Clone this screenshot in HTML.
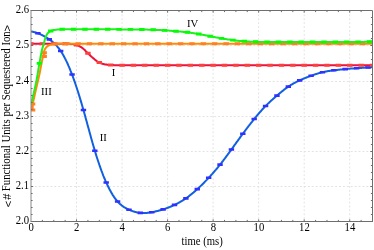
<!DOCTYPE html>
<html><head><meta charset="utf-8"><style>html,body{margin:0;padding:0;background:#fff;}svg{display:block;}.s{font-family:"Liberation Sans",sans-serif;font-size:11px;}.t{font-family:"Liberation Serif",serif;font-size:10.7px;opacity:0.999;}</style></head><body>
<svg width="374" height="250" viewBox="0 0 374 250">
<rect width="374" height="250" fill="#fff"/>
<path d="M76.53,10.5 V221.5 M122.07,10.5 V221.5 M167.60,10.5 V221.5 M213.13,10.5 V221.5 M258.67,10.5 V221.5 M304.20,10.5 V221.5 M349.73,10.5 V221.5 M31.0,45.5 H372.5 M31.0,81.5 H372.5 M31.0,116.5 H372.5 M31.0,151.5 H372.5 M31.0,186.5 H372.5" stroke="#e2e2e2" stroke-width="1" stroke-dasharray="1.9 2" fill="none"/>
<clipPath id="c"><rect x="31.0" y="10.5" width="341.5" height="211.0"/></clipPath>
<g clip-path="url(#c)">
<path d="M31.0,31.4 L31.5,31.5 L32.0,31.6 L32.5,31.7 L33.0,31.8 L33.5,31.9 L34.0,32.1 L34.5,32.2 L35.0,32.3 L35.5,32.5 L36.0,32.6 L36.5,32.8 L37.0,33.0 L37.5,33.2 L38.0,33.3 L38.5,33.5 L39.0,33.7 L39.5,33.9 L40.0,34.1 L40.5,34.4 L41.0,34.6 L41.5,34.8 L42.0,35.1 L42.5,35.3 L43.0,35.6 L43.5,35.8 L44.0,36.1 L44.5,36.4 L45.0,36.7 L45.5,37.0 L46.0,37.3 L46.5,37.6 L47.0,37.9 L47.5,38.2 L48.0,38.5 L48.5,38.9 L49.0,39.2 L49.5,39.5 L50.0,39.9 L50.5,40.3 L51.0,40.6 L51.5,41.0 L52.0,41.4 L52.5,41.8 L53.0,42.3 L53.5,42.7 L54.0,43.1 L54.5,43.6 L55.0,44.1 L55.5,44.6 L56.0,45.1 L56.5,45.6 L57.0,46.2 L57.5,46.8 L58.0,47.4 L58.5,48.0 L59.0,48.6 L59.5,49.3 L60.0,50.0 L60.5,50.7 L61.0,51.4 L61.5,52.2 L62.0,53.0 L62.5,53.8 L63.0,54.7 L63.5,55.6 L64.0,56.5 L64.5,57.4 L65.0,58.4 L65.5,59.3 L66.0,60.4 L66.5,61.4 L67.0,62.4 L67.5,63.5 L68.0,64.6 L68.5,65.8 L69.0,66.9 L69.5,68.1 L70.0,69.3 L70.5,70.6 L71.0,71.8 L71.5,73.1 L72.0,74.4 L72.5,75.7 L73.0,77.1 L73.5,78.5 L74.0,79.9 L74.5,81.3 L75.0,82.7 L75.5,84.2 L76.0,85.7 L76.5,87.2 L77.0,88.7 L77.5,90.2 L78.0,91.8 L78.5,93.4 L79.0,95.0 L79.5,96.6 L80.0,98.3 L80.5,99.9 L81.0,101.6 L81.5,103.3 L82.0,105.0 L82.5,106.7 L83.0,108.5 L83.5,110.2 L84.0,112.0 L84.5,113.8 L85.0,115.6 L85.5,117.4 L86.0,119.2 L86.5,121.0 L87.0,122.8 L87.5,124.7 L88.0,126.5 L88.5,128.3 L89.0,130.1 L89.5,132.0 L90.0,133.8 L90.5,135.6 L91.0,137.4 L91.5,139.2 L92.0,141.0 L92.5,142.7 L93.0,144.5 L93.5,146.2 L94.0,147.9 L94.5,149.6 L95.0,151.3 L95.5,152.9 L96.0,154.6 L96.5,156.2 L97.0,157.7 L97.5,159.3 L98.0,160.8 L98.5,162.3 L99.0,163.8 L99.5,165.3 L100.0,166.7 L100.5,168.1 L101.0,169.5 L101.5,170.9 L102.0,172.2 L102.5,173.5 L103.0,174.8 L103.5,176.1 L104.0,177.3 L104.5,178.5 L105.0,179.7 L105.5,180.9 L106.0,182.0 L106.5,183.1 L107.0,184.2 L107.5,185.3 L108.0,186.3 L108.5,187.3 L109.0,188.3 L109.5,189.3 L110.0,190.2 L110.5,191.1 L111.0,192.0 L111.5,192.9 L112.0,193.7 L112.5,194.6 L113.0,195.4 L113.5,196.1 L114.0,196.9 L114.5,197.6 L115.0,198.3 L115.5,199.0 L116.0,199.6 L116.5,200.2 L117.0,200.8 L117.5,201.4 L118.0,202.0 L118.5,202.5 L119.0,203.0 L119.5,203.5 L120.0,204.0 L120.5,204.4 L121.0,204.8 L121.5,205.3 L122.0,205.6 L122.5,206.0 L123.0,206.4 L123.5,206.7 L124.0,207.1 L124.5,207.4 L125.0,207.7 L125.5,208.0 L126.0,208.2 L126.5,208.5 L127.0,208.8 L127.5,209.0 L128.0,209.2 L128.5,209.5 L129.0,209.7 L129.5,209.9 L130.0,210.1 L130.5,210.3 L131.0,210.5 L131.5,210.7 L132.0,210.9 L132.5,211.1 L133.0,211.3 L133.5,211.4 L134.0,211.6 L134.5,211.7 L135.0,211.9 L135.5,212.0 L136.0,212.1 L136.5,212.3 L137.0,212.4 L137.5,212.5 L138.0,212.6 L138.5,212.7 L139.0,212.7 L139.5,212.8 L140.0,212.9 L140.5,212.9 L141.0,213.0 L141.5,213.0 L142.0,213.0 L142.5,213.0 L143.0,213.0 L143.5,213.0 L144.0,213.0 L144.5,213.0 L145.0,213.0 L145.5,213.0 L146.0,212.9 L146.5,212.9 L147.0,212.9 L147.5,212.8 L148.0,212.8 L148.5,212.7 L149.0,212.6 L149.5,212.6 L150.0,212.5 L150.5,212.4 L151.0,212.3 L151.5,212.3 L152.0,212.2 L152.5,212.1 L153.0,212.0 L153.5,211.9 L154.0,211.8 L154.5,211.7 L155.0,211.6 L155.5,211.5 L156.0,211.3 L156.5,211.2 L157.0,211.1 L157.5,211.0 L158.0,210.9 L158.5,210.7 L159.0,210.6 L159.5,210.5 L160.0,210.3 L160.5,210.2 L161.0,210.0 L161.5,209.9 L162.0,209.7 L162.5,209.6 L163.0,209.4 L163.5,209.3 L164.0,209.1 L164.5,208.9 L165.0,208.8 L165.5,208.6 L166.0,208.4 L166.5,208.2 L167.0,208.1 L167.5,207.9 L168.0,207.7 L168.5,207.5 L169.0,207.3 L169.5,207.1 L170.0,206.9 L170.5,206.7 L171.0,206.5 L171.5,206.3 L172.0,206.0 L172.5,205.8 L173.0,205.6 L173.5,205.4 L174.0,205.1 L174.5,204.9 L175.0,204.7 L175.5,204.4 L176.0,204.2 L176.5,203.9 L177.0,203.7 L177.5,203.4 L178.0,203.1 L178.5,202.9 L179.0,202.6 L179.5,202.3 L180.0,202.0 L180.5,201.7 L181.0,201.5 L181.5,201.2 L182.0,200.9 L182.5,200.6 L183.0,200.2 L183.5,199.9 L184.0,199.6 L184.5,199.3 L185.0,198.9 L185.5,198.6 L186.0,198.3 L186.5,197.9 L187.0,197.6 L187.5,197.2 L188.0,196.8 L188.5,196.5 L189.0,196.1 L189.5,195.7 L190.0,195.3 L190.5,194.9 L191.0,194.5 L191.5,194.1 L192.0,193.7 L192.5,193.3 L193.0,192.9 L193.5,192.5 L194.0,192.0 L194.5,191.6 L195.0,191.2 L195.5,190.7 L196.0,190.3 L196.5,189.8 L197.0,189.4 L197.5,188.9 L198.0,188.5 L198.5,188.0 L199.0,187.5 L199.5,187.1 L200.0,186.6 L200.5,186.1 L201.0,185.6 L201.5,185.2 L202.0,184.7 L202.5,184.2 L203.0,183.7 L203.5,183.2 L204.0,182.7 L204.5,182.2 L205.0,181.6 L205.5,181.1 L206.0,180.6 L206.5,180.1 L207.0,179.6 L207.5,179.0 L208.0,178.5 L208.5,178.0 L209.0,177.4 L209.5,176.9 L210.0,176.4 L210.5,175.8 L211.0,175.3 L211.5,174.7 L212.0,174.1 L212.5,173.6 L213.0,173.0 L213.5,172.5 L214.0,171.9 L214.5,171.3 L215.0,170.7 L215.5,170.1 L216.0,169.6 L216.5,169.0 L217.0,168.4 L217.5,167.8 L218.0,167.2 L218.5,166.5 L219.0,165.9 L219.5,165.3 L220.0,164.7 L220.5,164.1 L221.0,163.4 L221.5,162.8 L222.0,162.1 L222.5,161.5 L223.0,160.9 L223.5,160.2 L224.0,159.5 L224.5,158.9 L225.0,158.2 L225.5,157.6 L226.0,156.9 L226.5,156.2 L227.0,155.5 L227.5,154.9 L228.0,154.2 L228.5,153.5 L229.0,152.8 L229.5,152.1 L230.0,151.4 L230.5,150.8 L231.0,150.1 L231.5,149.4 L232.0,148.7 L232.5,148.0 L233.0,147.3 L233.5,146.6 L234.0,145.9 L234.5,145.2 L235.0,144.5 L235.5,143.8 L236.0,143.1 L236.5,142.4 L237.0,141.7 L237.5,141.1 L238.0,140.4 L238.5,139.7 L239.0,139.0 L239.5,138.3 L240.0,137.6 L240.5,136.9 L241.0,136.2 L241.5,135.5 L242.0,134.9 L242.5,134.2 L243.0,133.5 L243.5,132.8 L244.0,132.2 L244.5,131.5 L245.0,130.8 L245.5,130.2 L246.0,129.5 L246.5,128.8 L247.0,128.2 L247.5,127.5 L248.0,126.9 L248.5,126.2 L249.0,125.6 L249.5,124.9 L250.0,124.3 L250.5,123.7 L251.0,123.0 L251.5,122.4 L252.0,121.8 L252.5,121.1 L253.0,120.5 L253.5,119.9 L254.0,119.3 L254.5,118.7 L255.0,118.0 L255.5,117.4 L256.0,116.8 L256.5,116.2 L257.0,115.6 L257.5,115.0 L258.0,114.4 L258.5,113.8 L259.0,113.3 L259.5,112.7 L260.0,112.1 L260.5,111.5 L261.0,111.0 L261.5,110.4 L262.0,109.8 L262.5,109.3 L263.0,108.7 L263.5,108.2 L264.0,107.7 L264.5,107.1 L265.0,106.6 L265.5,106.1 L266.0,105.6 L266.5,105.1 L267.0,104.6 L267.5,104.1 L268.0,103.6 L268.5,103.1 L269.0,102.7 L269.5,102.2 L270.0,101.7 L270.5,101.3 L271.0,100.8 L271.5,100.4 L272.0,99.9 L272.5,99.5 L273.0,99.0 L273.5,98.6 L274.0,98.1 L274.5,97.7 L275.0,97.3 L275.5,96.8 L276.0,96.4 L276.5,96.0 L277.0,95.6 L277.5,95.1 L278.0,94.7 L278.5,94.3 L279.0,93.9 L279.5,93.4 L280.0,93.0 L280.5,92.6 L281.0,92.2 L281.5,91.8 L282.0,91.4 L282.5,91.0 L283.0,90.6 L283.5,90.2 L284.0,89.8 L284.5,89.4 L285.0,89.0 L285.5,88.7 L286.0,88.3 L286.5,87.9 L287.0,87.6 L287.5,87.2 L288.0,86.9 L288.5,86.5 L289.0,86.2 L289.5,85.9 L290.0,85.6 L290.5,85.2 L291.0,84.9 L291.5,84.6 L292.0,84.3 L292.5,84.0 L293.0,83.8 L293.5,83.5 L294.0,83.2 L294.5,82.9 L295.0,82.7 L295.5,82.4 L296.0,82.1 L296.5,81.9 L297.0,81.6 L297.5,81.4 L298.0,81.2 L298.5,80.9 L299.0,80.7 L299.5,80.5 L300.0,80.2 L300.5,80.0 L301.0,79.8 L301.5,79.6 L302.0,79.3 L302.5,79.1 L303.0,78.9 L303.5,78.7 L304.0,78.5 L304.5,78.3 L305.0,78.1 L305.5,77.9 L306.0,77.7 L306.5,77.5 L307.0,77.3 L307.5,77.1 L308.0,76.9 L308.5,76.7 L309.0,76.5 L309.5,76.3 L310.0,76.2 L310.5,76.0 L311.0,75.8 L311.5,75.6 L312.0,75.4 L312.5,75.3 L313.0,75.1 L313.5,74.9 L314.0,74.7 L314.5,74.6 L315.0,74.4 L315.5,74.2 L316.0,74.1 L316.5,73.9 L317.0,73.8 L317.5,73.6 L318.0,73.4 L318.5,73.3 L319.0,73.1 L319.5,73.0 L320.0,72.9 L320.5,72.7 L321.0,72.6 L321.5,72.5 L322.0,72.3 L322.5,72.2 L323.0,72.1 L323.5,72.0 L324.0,71.9 L324.5,71.8 L325.0,71.7 L325.5,71.6 L326.0,71.5 L326.5,71.4 L327.0,71.3 L327.5,71.2 L328.0,71.1 L328.5,71.1 L329.0,71.0 L329.5,70.9 L330.0,70.8 L330.5,70.8 L331.0,70.7 L331.5,70.6 L332.0,70.6 L332.5,70.5 L333.0,70.4 L333.5,70.4 L334.0,70.3 L334.5,70.2 L335.0,70.2 L335.5,70.1 L336.0,70.1 L336.5,70.0 L337.0,69.9 L337.5,69.9 L338.0,69.8 L338.5,69.8 L339.0,69.7 L339.5,69.7 L340.0,69.6 L340.5,69.6 L341.0,69.5 L341.5,69.4 L342.0,69.4 L342.5,69.3 L343.0,69.3 L343.5,69.2 L344.0,69.2 L344.5,69.2 L345.0,69.1 L345.5,69.1 L346.0,69.0 L346.5,69.0 L347.0,68.9 L347.5,68.9 L348.0,68.8 L348.5,68.8 L349.0,68.8 L349.5,68.7 L350.0,68.7 L350.5,68.6 L351.0,68.6 L351.5,68.6 L352.0,68.5 L352.5,68.5 L353.0,68.4 L353.5,68.4 L354.0,68.4 L354.5,68.3 L355.0,68.3 L355.5,68.3 L356.0,68.2 L356.5,68.2 L357.0,68.2 L357.5,68.1 L358.0,68.1 L358.5,68.1 L359.0,68.0 L359.5,68.0 L360.0,68.0 L360.5,67.9 L361.0,67.9 L361.5,67.9 L362.0,67.8 L362.5,67.8 L363.0,67.8 L363.5,67.7 L364.0,67.7 L364.5,67.7 L365.0,67.6 L365.5,67.6 L366.0,67.6 L366.5,67.6 L367.0,67.5 L367.5,67.5 L368.0,67.5 L368.5,67.5 L369.0,67.4 L369.5,67.4 L370.0,67.4 L370.5,67.3 L371.0,67.3 L371.5,67.3 L372.0,67.3 L372.5,67.2" stroke="#1060e0" stroke-width="2.0" fill="none" stroke-linejoin="round"/>
<path d="M35.20,33.30 h5.4 M46.58,39.39 h5.4 M57.97,50.95 h5.4 M69.35,74.53 h5.4 M80.73,109.98 h5.4 M92.12,150.68 h5.4 M103.50,182.45 h5.4 M114.88,201.51 h5.4 M126.27,209.69 h5.4 M137.65,212.90 h5.4 M149.03,212.21 h5.4 M160.42,209.39 h5.4 M171.80,204.90 h5.4 M183.18,198.34 h5.4 M194.57,189.14 h5.4 M205.95,177.82 h5.4 M217.33,164.65 h5.4 M228.72,149.49 h5.4 M240.10,133.78 h5.4 M251.48,119.05 h5.4 M262.87,106.03 h5.4 M274.25,95.60 h5.4 M285.63,86.65 h5.4 M297.02,80.35 h5.4 M308.40,75.76 h5.4 M319.78,72.23 h5.4 M331.17,70.32 h5.4 M342.55,69.08 h5.4 M353.93,68.18 h5.4 M365.32,67.48 h5.4" stroke="#3030ff" stroke-width="2.6" fill="none"/>
<path d="M31.0,43.7 L31.5,43.7 L32.0,43.7 L32.5,43.7 L33.0,43.7 L33.5,43.7 L34.0,43.7 L34.5,43.7 L35.0,43.7 L35.5,43.7 L36.0,43.7 L36.5,43.7 L37.0,43.7 L37.5,43.7 L38.0,43.7 L38.5,43.7 L39.0,43.7 L39.5,43.7 L40.0,43.7 L40.5,43.7 L41.0,43.7 L41.5,43.7 L42.0,43.7 L42.5,43.7 L43.0,43.7 L43.5,43.7 L44.0,43.7 L44.5,43.7 L45.0,43.7 L45.5,43.7 L46.0,43.7 L46.5,43.7 L47.0,43.7 L47.5,43.7 L48.0,43.7 L48.5,43.7 L49.0,43.7 L49.5,43.7 L50.0,43.7 L50.5,43.7 L51.0,43.7 L51.5,43.7 L52.0,43.7 L52.5,43.7 L53.0,43.7 L53.5,43.7 L54.0,43.7 L54.5,43.7 L55.0,43.7 L55.5,43.7 L56.0,43.7 L56.5,43.7 L57.0,43.7 L57.5,43.7 L58.0,43.7 L58.5,43.7 L59.0,43.7 L59.5,43.7 L60.0,43.7 L60.5,43.7 L61.0,43.7 L61.5,43.7 L62.0,43.7 L62.5,43.7 L63.0,43.7 L63.5,43.7 L64.0,43.7 L64.5,43.7 L65.0,43.7 L65.5,43.7 L66.0,43.7 L66.5,43.7 L67.0,43.7 L67.5,43.7 L68.0,43.7 L68.5,43.7 L69.0,43.7 L69.5,43.8 L70.0,43.8 L70.5,43.9 L71.0,43.9 L71.5,44.0 L72.0,44.0 L72.5,44.1 L73.0,44.2 L73.5,44.3 L74.0,44.4 L74.5,44.5 L75.0,44.6 L75.5,44.7 L76.0,44.9 L76.5,45.0 L77.0,45.2 L77.5,45.4 L78.0,45.6 L78.5,45.8 L79.0,46.1 L79.5,46.3 L80.0,46.5 L80.5,46.8 L81.0,47.1 L81.5,47.3 L82.0,47.7 L82.5,48.1 L83.0,48.5 L83.5,48.9 L84.0,49.4 L84.5,49.9 L85.0,50.3 L85.5,50.8 L86.0,51.4 L86.5,51.9 L87.0,52.4 L87.5,52.8 L88.0,53.3 L88.5,53.8 L89.0,54.2 L89.5,54.7 L90.0,55.2 L90.5,55.7 L91.0,56.2 L91.5,56.6 L92.0,57.1 L92.5,57.6 L93.0,58.0 L93.5,58.4 L94.0,58.8 L94.5,59.3 L95.0,59.7 L95.5,60.1 L96.0,60.5 L96.5,60.9 L97.0,61.2 L97.5,61.6 L98.0,61.9 L98.5,62.2 L99.0,62.5 L99.5,62.7 L100.0,62.9 L100.5,63.1 L101.0,63.3 L101.5,63.5 L102.0,63.6 L102.5,63.8 L103.0,63.9 L103.5,64.1 L104.0,64.2 L104.5,64.3 L105.0,64.4 L105.5,64.5 L106.0,64.6 L106.5,64.6 L107.0,64.7 L107.5,64.8 L108.0,64.8 L108.5,64.9 L109.0,64.9 L109.5,65.0 L110.0,65.0 L110.5,65.0 L111.0,65.0 L111.5,65.1 L112.0,65.1 L112.5,65.1 L113.0,65.1 L113.5,65.1 L114.0,65.2 L114.5,65.2 L115.0,65.2 L115.5,65.2 L116.0,65.2 L116.5,65.2 L117.0,65.2 L117.5,65.2 L118.0,65.2 L118.5,65.2 L119.0,65.2 L119.5,65.2 L120.0,65.2 L120.5,65.2 L121.0,65.2 L121.5,65.2 L122.0,65.2 L122.5,65.2 L123.0,65.2 L123.5,65.2 L124.0,65.2 L124.5,65.2 L125.0,65.2 L125.5,65.2 L126.0,65.2 L126.5,65.2 L127.0,65.2 L127.5,65.2 L128.0,65.2 L128.5,65.2 L129.0,65.2 L129.5,65.2 L130.0,65.2 L130.5,65.2 L131.0,65.2 L131.5,65.2 L132.0,65.2 L132.5,65.2 L133.0,65.2 L133.5,65.2 L134.0,65.2 L134.5,65.2 L135.0,65.2 L135.5,65.2 L136.0,65.2 L136.5,65.2 L137.0,65.2 L137.5,65.2 L138.0,65.2 L138.5,65.2 L139.0,65.2 L139.5,65.2 L140.0,65.2 L140.5,65.2 L141.0,65.2 L141.5,65.2 L142.0,65.2 L142.5,65.2 L143.0,65.2 L143.5,65.2 L144.0,65.2 L144.5,65.2 L145.0,65.2 L145.5,65.2 L146.0,65.2 L146.5,65.2 L147.0,65.2 L147.5,65.2 L148.0,65.2 L148.5,65.2 L149.0,65.2 L149.5,65.2 L150.0,65.2 L150.5,65.2 L151.0,65.2 L151.5,65.2 L152.0,65.2 L152.5,65.2 L153.0,65.2 L153.5,65.2 L154.0,65.2 L154.5,65.2 L155.0,65.2 L155.5,65.2 L156.0,65.2 L156.5,65.2 L157.0,65.2 L157.5,65.2 L158.0,65.2 L158.5,65.2 L159.0,65.2 L159.5,65.2 L160.0,65.2 L160.5,65.2 L161.0,65.2 L161.5,65.2 L162.0,65.2 L162.5,65.2 L163.0,65.2 L163.5,65.2 L164.0,65.2 L164.5,65.2 L165.0,65.2 L165.5,65.2 L166.0,65.2 L166.5,65.2 L167.0,65.2 L167.5,65.2 L168.0,65.2 L168.5,65.2 L169.0,65.2 L169.5,65.2 L170.0,65.2 L170.5,65.2 L171.0,65.2 L171.5,65.2 L172.0,65.2 L172.5,65.2 L173.0,65.2 L173.5,65.2 L174.0,65.2 L174.5,65.2 L175.0,65.2 L175.5,65.2 L176.0,65.2 L176.5,65.2 L177.0,65.2 L177.5,65.2 L178.0,65.2 L178.5,65.2 L179.0,65.2 L179.5,65.2 L180.0,65.2 L180.5,65.2 L181.0,65.2 L181.5,65.2 L182.0,65.2 L182.5,65.2 L183.0,65.2 L183.5,65.2 L184.0,65.2 L184.5,65.2 L185.0,65.2 L185.5,65.2 L186.0,65.2 L186.5,65.2 L187.0,65.2 L187.5,65.2 L188.0,65.2 L188.5,65.2 L189.0,65.2 L189.5,65.2 L190.0,65.2 L190.5,65.2 L191.0,65.2 L191.5,65.2 L192.0,65.2 L192.5,65.2 L193.0,65.2 L193.5,65.2 L194.0,65.2 L194.5,65.2 L195.0,65.2 L195.5,65.2 L196.0,65.2 L196.5,65.2 L197.0,65.2 L197.5,65.2 L198.0,65.2 L198.5,65.2 L199.0,65.2 L199.5,65.2 L200.0,65.2 L200.5,65.2 L201.0,65.2 L201.5,65.2 L202.0,65.2 L202.5,65.2 L203.0,65.2 L203.5,65.2 L204.0,65.2 L204.5,65.2 L205.0,65.2 L205.5,65.2 L206.0,65.2 L206.5,65.2 L207.0,65.2 L207.5,65.2 L208.0,65.2 L208.5,65.2 L209.0,65.2 L209.5,65.2 L210.0,65.2 L210.5,65.2 L211.0,65.2 L211.5,65.2 L212.0,65.2 L212.5,65.2 L213.0,65.2 L213.5,65.2 L214.0,65.2 L214.5,65.2 L215.0,65.2 L215.5,65.2 L216.0,65.2 L216.5,65.2 L217.0,65.2 L217.5,65.2 L218.0,65.2 L218.5,65.2 L219.0,65.2 L219.5,65.2 L220.0,65.2 L220.5,65.2 L221.0,65.2 L221.5,65.2 L222.0,65.2 L222.5,65.2 L223.0,65.2 L223.5,65.2 L224.0,65.2 L224.5,65.2 L225.0,65.2 L225.5,65.2 L226.0,65.2 L226.5,65.2 L227.0,65.2 L227.5,65.2 L228.0,65.2 L228.5,65.2 L229.0,65.2 L229.5,65.2 L230.0,65.2 L230.5,65.2 L231.0,65.2 L231.5,65.2 L232.0,65.2 L232.5,65.2 L233.0,65.2 L233.5,65.2 L234.0,65.2 L234.5,65.2 L235.0,65.2 L235.5,65.2 L236.0,65.2 L236.5,65.2 L237.0,65.2 L237.5,65.2 L238.0,65.2 L238.5,65.2 L239.0,65.2 L239.5,65.2 L240.0,65.2 L240.5,65.2 L241.0,65.2 L241.5,65.2 L242.0,65.2 L242.5,65.2 L243.0,65.2 L243.5,65.2 L244.0,65.2 L244.5,65.2 L245.0,65.2 L245.5,65.2 L246.0,65.2 L246.5,65.2 L247.0,65.2 L247.5,65.2 L248.0,65.2 L248.5,65.2 L249.0,65.2 L249.5,65.2 L250.0,65.2 L250.5,65.2 L251.0,65.2 L251.5,65.2 L252.0,65.2 L252.5,65.2 L253.0,65.2 L253.5,65.2 L254.0,65.2 L254.5,65.2 L255.0,65.2 L255.5,65.2 L256.0,65.2 L256.5,65.2 L257.0,65.2 L257.5,65.2 L258.0,65.2 L258.5,65.2 L259.0,65.2 L259.5,65.2 L260.0,65.2 L260.5,65.2 L261.0,65.2 L261.5,65.2 L262.0,65.2 L262.5,65.2 L263.0,65.2 L263.5,65.2 L264.0,65.2 L264.5,65.2 L265.0,65.2 L265.5,65.2 L266.0,65.2 L266.5,65.2 L267.0,65.2 L267.5,65.2 L268.0,65.2 L268.5,65.2 L269.0,65.2 L269.5,65.2 L270.0,65.2 L270.5,65.2 L271.0,65.2 L271.5,65.2 L272.0,65.2 L272.5,65.2 L273.0,65.2 L273.5,65.2 L274.0,65.2 L274.5,65.2 L275.0,65.2 L275.5,65.2 L276.0,65.2 L276.5,65.2 L277.0,65.2 L277.5,65.2 L278.0,65.2 L278.5,65.2 L279.0,65.2 L279.5,65.2 L280.0,65.2 L280.5,65.2 L281.0,65.2 L281.5,65.2 L282.0,65.2 L282.5,65.2 L283.0,65.2 L283.5,65.2 L284.0,65.2 L284.5,65.2 L285.0,65.2 L285.5,65.2 L286.0,65.2 L286.5,65.2 L287.0,65.2 L287.5,65.2 L288.0,65.2 L288.5,65.2 L289.0,65.2 L289.5,65.2 L290.0,65.2 L290.5,65.2 L291.0,65.2 L291.5,65.2 L292.0,65.2 L292.5,65.2 L293.0,65.2 L293.5,65.2 L294.0,65.2 L294.5,65.2 L295.0,65.2 L295.5,65.2 L296.0,65.2 L296.5,65.2 L297.0,65.2 L297.5,65.2 L298.0,65.2 L298.5,65.2 L299.0,65.2 L299.5,65.2 L300.0,65.2 L300.5,65.2 L301.0,65.2 L301.5,65.2 L302.0,65.2 L302.5,65.2 L303.0,65.2 L303.5,65.2 L304.0,65.2 L304.5,65.2 L305.0,65.2 L305.5,65.2 L306.0,65.2 L306.5,65.2 L307.0,65.2 L307.5,65.2 L308.0,65.2 L308.5,65.2 L309.0,65.2 L309.5,65.2 L310.0,65.2 L310.5,65.2 L311.0,65.2 L311.5,65.2 L312.0,65.2 L312.5,65.2 L313.0,65.2 L313.5,65.2 L314.0,65.2 L314.5,65.2 L315.0,65.2 L315.5,65.2 L316.0,65.2 L316.5,65.2 L317.0,65.2 L317.5,65.2 L318.0,65.2 L318.5,65.2 L319.0,65.2 L319.5,65.2 L320.0,65.2 L320.5,65.2 L321.0,65.2 L321.5,65.2 L322.0,65.2 L322.5,65.2 L323.0,65.2 L323.5,65.2 L324.0,65.2 L324.5,65.2 L325.0,65.2 L325.5,65.2 L326.0,65.2 L326.5,65.2 L327.0,65.2 L327.5,65.2 L328.0,65.2 L328.5,65.2 L329.0,65.2 L329.5,65.2 L330.0,65.2 L330.5,65.2 L331.0,65.2 L331.5,65.2 L332.0,65.2 L332.5,65.2 L333.0,65.2 L333.5,65.2 L334.0,65.2 L334.5,65.2 L335.0,65.2 L335.5,65.2 L336.0,65.2 L336.5,65.2 L337.0,65.2 L337.5,65.2 L338.0,65.2 L338.5,65.2 L339.0,65.2 L339.5,65.2 L340.0,65.2 L340.5,65.2 L341.0,65.2 L341.5,65.2 L342.0,65.2 L342.5,65.2 L343.0,65.2 L343.5,65.2 L344.0,65.2 L344.5,65.2 L345.0,65.2 L345.5,65.2 L346.0,65.2 L346.5,65.2 L347.0,65.2 L347.5,65.2 L348.0,65.2 L348.5,65.2 L349.0,65.2 L349.5,65.2 L350.0,65.2 L350.5,65.2 L351.0,65.2 L351.5,65.2 L352.0,65.2 L352.5,65.2 L353.0,65.2 L353.5,65.2 L354.0,65.2 L354.5,65.2 L355.0,65.2 L355.5,65.2 L356.0,65.2 L356.5,65.2 L357.0,65.2 L357.5,65.2 L358.0,65.2 L358.5,65.2 L359.0,65.2 L359.5,65.2 L360.0,65.2 L360.5,65.2 L361.0,65.2 L361.5,65.2 L362.0,65.2 L362.5,65.2 L363.0,65.2 L363.5,65.2 L364.0,65.2 L364.5,65.2 L365.0,65.2 L365.5,65.2 L366.0,65.2 L366.5,65.2 L367.0,65.2 L367.5,65.2 L368.0,65.2 L368.5,65.2 L369.0,65.2 L369.5,65.2 L370.0,65.2 L370.5,65.2 L371.0,65.2 L371.5,65.2 L372.0,65.2 L372.5,65.2" stroke="#ea1238" stroke-width="2.0" fill="none" stroke-linejoin="round"/>
<path d="M28.30,43.70 h5.4 M39.68,43.70 h5.4 M51.07,43.70 h5.4 M62.45,43.70 h5.4 M73.83,45.06 h5.4 M85.22,53.23 h5.4 M96.60,62.60 h5.4 M107.98,65.03 h5.4 M119.37,65.25 h5.4 M130.75,65.25 h5.4 M142.13,65.25 h5.4 M153.52,65.25 h5.4 M164.90,65.25 h5.4 M176.28,65.25 h5.4 M187.67,65.25 h5.4 M199.05,65.25 h5.4 M210.43,65.25 h5.4 M221.82,65.25 h5.4 M233.20,65.25 h5.4 M244.58,65.25 h5.4 M255.97,65.25 h5.4 M267.35,65.25 h5.4 M278.73,65.25 h5.4 M290.12,65.25 h5.4 M301.50,65.25 h5.4 M312.88,65.25 h5.4 M324.27,65.25 h5.4 M335.65,65.25 h5.4 M347.03,65.25 h5.4 M358.42,65.25 h5.4 M369.80,65.25 h5.4" stroke="#ff3e3e" stroke-width="3.0" fill="none"/>
<path d="M31.0,110.0 L31.5,108.2 L32.0,106.3 L32.5,104.4 L33.0,102.4 L33.5,100.3 L34.0,98.2 L34.5,96.0 L35.0,93.8 L35.5,91.6 L36.0,89.4 L36.5,87.2 L37.0,85.0 L37.5,82.8 L38.0,80.7 L38.5,78.5 L39.0,76.3 L39.5,74.0 L40.0,71.5 L40.5,68.8 L41.0,66.1 L41.5,63.4 L42.0,60.9 L42.5,58.7 L43.0,56.7 L43.5,54.5 L44.0,51.6 L44.5,50.1 L45.0,49.1 L45.5,48.3 L46.0,47.7 L46.5,47.1 L47.0,46.6 L47.5,46.2 L48.0,45.9 L48.5,45.6 L49.0,45.3 L49.5,45.1 L50.0,44.9 L50.5,44.7 L51.0,44.6 L51.5,44.5 L52.0,44.4 L52.5,44.3 L53.0,44.2 L53.5,44.1 L54.0,44.0 L54.5,44.0 L55.0,43.9 L55.5,43.9 L56.0,43.9 L56.5,43.8 L57.0,43.8 L57.5,43.8 L58.0,43.8 L58.5,43.8 L59.0,43.7 L59.5,43.7 L60.0,43.7 L60.5,43.7 L61.0,43.7 L61.5,43.7 L62.0,43.7 L62.5,43.7 L63.0,43.7 L63.5,43.7 L64.0,43.7 L64.5,43.7 L65.0,43.7 L65.5,43.7 L66.0,43.7 L66.5,43.7 L67.0,43.7 L67.5,43.7 L68.0,43.7 L68.5,43.7 L69.0,43.7 L69.5,43.7 L70.0,43.7 L70.5,43.7 L71.0,43.7 L71.5,43.7 L72.0,43.7 L72.5,43.7 L73.0,43.7 L73.5,43.7 L74.0,43.7 L74.5,43.7 L75.0,43.7 L75.5,43.7 L76.0,43.7 L76.5,43.7 L77.0,43.7 L77.5,43.7 L78.0,43.7 L78.5,43.7 L79.0,43.7 L79.5,43.7 L80.0,43.7 L80.5,43.7 L81.0,43.7 L81.5,43.7 L82.0,43.7 L82.5,43.7 L83.0,43.7 L83.5,43.7 L84.0,43.7 L84.5,43.7 L85.0,43.7 L85.5,43.7 L86.0,43.7 L86.5,43.7 L87.0,43.7 L87.5,43.7 L88.0,43.7 L88.5,43.7 L89.0,43.7 L89.5,43.7 L90.0,43.7 L90.5,43.7 L91.0,43.7 L91.5,43.7 L92.0,43.7 L92.5,43.7 L93.0,43.7 L93.5,43.7 L94.0,43.7 L94.5,43.7 L95.0,43.7 L95.5,43.7 L96.0,43.7 L96.5,43.7 L97.0,43.7 L97.5,43.7 L98.0,43.7 L98.5,43.7 L99.0,43.7 L99.5,43.7 L100.0,43.7 L100.5,43.7 L101.0,43.7 L101.5,43.7 L102.0,43.7 L102.5,43.7 L103.0,43.7 L103.5,43.7 L104.0,43.7 L104.5,43.7 L105.0,43.7 L105.5,43.7 L106.0,43.7 L106.5,43.7 L107.0,43.7 L107.5,43.7 L108.0,43.7 L108.5,43.7 L109.0,43.7 L109.5,43.7 L110.0,43.7 L110.5,43.7 L111.0,43.7 L111.5,43.7 L112.0,43.7 L112.5,43.7 L113.0,43.7 L113.5,43.7 L114.0,43.7 L114.5,43.7 L115.0,43.7 L115.5,43.7 L116.0,43.7 L116.5,43.7 L117.0,43.7 L117.5,43.7 L118.0,43.7 L118.5,43.7 L119.0,43.7 L119.5,43.7 L120.0,43.7 L120.5,43.7 L121.0,43.7 L121.5,43.7 L122.0,43.7 L122.5,43.7 L123.0,43.7 L123.5,43.7 L124.0,43.7 L124.5,43.7 L125.0,43.7 L125.5,43.7 L126.0,43.7 L126.5,43.7 L127.0,43.7 L127.5,43.7 L128.0,43.7 L128.5,43.7 L129.0,43.7 L129.5,43.7 L130.0,43.7 L130.5,43.7 L131.0,43.7 L131.5,43.7 L132.0,43.7 L132.5,43.7 L133.0,43.7 L133.5,43.7 L134.0,43.7 L134.5,43.7 L135.0,43.7 L135.5,43.7 L136.0,43.7 L136.5,43.7 L137.0,43.7 L137.5,43.7 L138.0,43.7 L138.5,43.7 L139.0,43.7 L139.5,43.7 L140.0,43.7 L140.5,43.7 L141.0,43.7 L141.5,43.7 L142.0,43.7 L142.5,43.7 L143.0,43.7 L143.5,43.7 L144.0,43.7 L144.5,43.7 L145.0,43.7 L145.5,43.7 L146.0,43.7 L146.5,43.7 L147.0,43.7 L147.5,43.7 L148.0,43.7 L148.5,43.7 L149.0,43.7 L149.5,43.7 L150.0,43.7 L150.5,43.7 L151.0,43.7 L151.5,43.7 L152.0,43.7 L152.5,43.7 L153.0,43.7 L153.5,43.7 L154.0,43.7 L154.5,43.7 L155.0,43.7 L155.5,43.7 L156.0,43.7 L156.5,43.7 L157.0,43.7 L157.5,43.7 L158.0,43.7 L158.5,43.7 L159.0,43.7 L159.5,43.7 L160.0,43.7 L160.5,43.7 L161.0,43.7 L161.5,43.7 L162.0,43.7 L162.5,43.7 L163.0,43.7 L163.5,43.7 L164.0,43.7 L164.5,43.7 L165.0,43.7 L165.5,43.7 L166.0,43.7 L166.5,43.7 L167.0,43.7 L167.5,43.7 L168.0,43.7 L168.5,43.7 L169.0,43.7 L169.5,43.7 L170.0,43.7 L170.5,43.7 L171.0,43.7 L171.5,43.7 L172.0,43.7 L172.5,43.7 L173.0,43.7 L173.5,43.7 L174.0,43.7 L174.5,43.7 L175.0,43.7 L175.5,43.7 L176.0,43.7 L176.5,43.7 L177.0,43.7 L177.5,43.7 L178.0,43.7 L178.5,43.7 L179.0,43.7 L179.5,43.7 L180.0,43.7 L180.5,43.7 L181.0,43.7 L181.5,43.7 L182.0,43.7 L182.5,43.7 L183.0,43.7 L183.5,43.7 L184.0,43.7 L184.5,43.7 L185.0,43.7 L185.5,43.7 L186.0,43.7 L186.5,43.7 L187.0,43.7 L187.5,43.7 L188.0,43.7 L188.5,43.7 L189.0,43.7 L189.5,43.7 L190.0,43.7 L190.5,43.7 L191.0,43.7 L191.5,43.7 L192.0,43.7 L192.5,43.7 L193.0,43.7 L193.5,43.7 L194.0,43.7 L194.5,43.7 L195.0,43.7 L195.5,43.7 L196.0,43.7 L196.5,43.7 L197.0,43.7 L197.5,43.7 L198.0,43.7 L198.5,43.7 L199.0,43.7 L199.5,43.7 L200.0,43.7 L200.5,43.7 L201.0,43.7 L201.5,43.7 L202.0,43.7 L202.5,43.7 L203.0,43.7 L203.5,43.7 L204.0,43.7 L204.5,43.7 L205.0,43.7 L205.5,43.7 L206.0,43.7 L206.5,43.7 L207.0,43.7 L207.5,43.7 L208.0,43.7 L208.5,43.7 L209.0,43.7 L209.5,43.7 L210.0,43.7 L210.5,43.7 L211.0,43.7 L211.5,43.7 L212.0,43.7 L212.5,43.7 L213.0,43.7 L213.5,43.7 L214.0,43.7 L214.5,43.7 L215.0,43.7 L215.5,43.7 L216.0,43.7 L216.5,43.7 L217.0,43.7 L217.5,43.7 L218.0,43.7 L218.5,43.7 L219.0,43.7 L219.5,43.7 L220.0,43.7 L220.5,43.7 L221.0,43.7 L221.5,43.7 L222.0,43.7 L222.5,43.7 L223.0,43.7 L223.5,43.7 L224.0,43.7 L224.5,43.7 L225.0,43.7 L225.5,43.7 L226.0,43.7 L226.5,43.7 L227.0,43.7 L227.5,43.7 L228.0,43.7 L228.5,43.7 L229.0,43.7 L229.5,43.7 L230.0,43.7 L230.5,43.7 L231.0,43.7 L231.5,43.7 L232.0,43.7 L232.5,43.7 L233.0,43.7 L233.5,43.7 L234.0,43.7 L234.5,43.7 L235.0,43.7 L235.5,43.7 L236.0,43.7 L236.5,43.7 L237.0,43.7 L237.5,43.7 L238.0,43.7 L238.5,43.7 L239.0,43.7 L239.5,43.7 L240.0,43.7 L240.5,43.7 L241.0,43.7 L241.5,43.7 L242.0,43.7 L242.5,43.7 L243.0,43.7 L243.5,43.7 L244.0,43.7 L244.5,43.7 L245.0,43.7 L245.5,43.7 L246.0,43.7 L246.5,43.7 L247.0,43.7 L247.5,43.7 L248.0,43.7 L248.5,43.7 L249.0,43.7 L249.5,43.7 L250.0,43.7 L250.5,43.7 L251.0,43.7 L251.5,43.7 L252.0,43.7 L252.5,43.7 L253.0,43.7 L253.5,43.7 L254.0,43.7 L254.5,43.7 L255.0,43.7 L255.5,43.7 L256.0,43.7 L256.5,43.7 L257.0,43.7 L257.5,43.7 L258.0,43.7 L258.5,43.7 L259.0,43.7 L259.5,43.7 L260.0,43.7 L260.5,43.7 L261.0,43.7 L261.5,43.7 L262.0,43.7 L262.5,43.7 L263.0,43.7 L263.5,43.7 L264.0,43.7 L264.5,43.7 L265.0,43.7 L265.5,43.7 L266.0,43.7 L266.5,43.7 L267.0,43.7 L267.5,43.7 L268.0,43.7 L268.5,43.7 L269.0,43.7 L269.5,43.7 L270.0,43.7 L270.5,43.7 L271.0,43.7 L271.5,43.7 L272.0,43.7 L272.5,43.7 L273.0,43.7 L273.5,43.7 L274.0,43.7 L274.5,43.7 L275.0,43.7 L275.5,43.7 L276.0,43.7 L276.5,43.7 L277.0,43.7 L277.5,43.7 L278.0,43.7 L278.5,43.7 L279.0,43.7 L279.5,43.7 L280.0,43.7 L280.5,43.7 L281.0,43.7 L281.5,43.7 L282.0,43.7 L282.5,43.7 L283.0,43.7 L283.5,43.7 L284.0,43.7 L284.5,43.7 L285.0,43.7 L285.5,43.7 L286.0,43.7 L286.5,43.7 L287.0,43.7 L287.5,43.7 L288.0,43.7 L288.5,43.7 L289.0,43.7 L289.5,43.7 L290.0,43.7 L290.5,43.7 L291.0,43.7 L291.5,43.7 L292.0,43.7 L292.5,43.7 L293.0,43.7 L293.5,43.7 L294.0,43.7 L294.5,43.7 L295.0,43.7 L295.5,43.7 L296.0,43.7 L296.5,43.7 L297.0,43.7 L297.5,43.7 L298.0,43.7 L298.5,43.7 L299.0,43.7 L299.5,43.7 L300.0,43.7 L300.5,43.7 L301.0,43.7 L301.5,43.7 L302.0,43.7 L302.5,43.7 L303.0,43.7 L303.5,43.7 L304.0,43.7 L304.5,43.7 L305.0,43.7 L305.5,43.7 L306.0,43.7 L306.5,43.7 L307.0,43.7 L307.5,43.7 L308.0,43.7 L308.5,43.7 L309.0,43.7 L309.5,43.7 L310.0,43.7 L310.5,43.7 L311.0,43.7 L311.5,43.7 L312.0,43.7 L312.5,43.7 L313.0,43.7 L313.5,43.7 L314.0,43.7 L314.5,43.7 L315.0,43.7 L315.5,43.7 L316.0,43.7 L316.5,43.7 L317.0,43.7 L317.5,43.7 L318.0,43.7 L318.5,43.7 L319.0,43.7 L319.5,43.7 L320.0,43.7 L320.5,43.7 L321.0,43.7 L321.5,43.7 L322.0,43.7 L322.5,43.7 L323.0,43.7 L323.5,43.7 L324.0,43.7 L324.5,43.7 L325.0,43.7 L325.5,43.7 L326.0,43.7 L326.5,43.7 L327.0,43.7 L327.5,43.7 L328.0,43.7 L328.5,43.7 L329.0,43.7 L329.5,43.7 L330.0,43.7 L330.5,43.7 L331.0,43.7 L331.5,43.7 L332.0,43.7 L332.5,43.7 L333.0,43.7 L333.5,43.7 L334.0,43.7 L334.5,43.7 L335.0,43.7 L335.5,43.7 L336.0,43.7 L336.5,43.7 L337.0,43.7 L337.5,43.7 L338.0,43.7 L338.5,43.7 L339.0,43.7 L339.5,43.7 L340.0,43.7 L340.5,43.7 L341.0,43.7 L341.5,43.7 L342.0,43.7 L342.5,43.7 L343.0,43.7 L343.5,43.7 L344.0,43.7 L344.5,43.7 L345.0,43.7 L345.5,43.7 L346.0,43.7 L346.5,43.7 L347.0,43.7 L347.5,43.7 L348.0,43.7 L348.5,43.7 L349.0,43.7 L349.5,43.7 L350.0,43.7 L350.5,43.7 L351.0,43.7 L351.5,43.7 L352.0,43.7 L352.5,43.7 L353.0,43.7 L353.5,43.7 L354.0,43.7 L354.5,43.7 L355.0,43.7 L355.5,43.7 L356.0,43.7 L356.5,43.7 L357.0,43.7 L357.5,43.7 L358.0,43.7 L358.5,43.7 L359.0,43.7 L359.5,43.7 L360.0,43.7 L360.5,43.7 L361.0,43.7 L361.5,43.7 L362.0,43.7 L362.5,43.7 L363.0,43.7 L363.5,43.7 L364.0,43.7 L364.5,43.7 L365.0,43.7 L365.5,43.7 L366.0,43.7 L366.5,43.7 L367.0,43.7 L367.5,43.7 L368.0,43.7 L368.5,43.7 L369.0,43.7 L369.5,43.7 L370.0,43.7 L370.5,43.7 L371.0,43.7 L371.5,43.7 L372.0,43.7 L372.5,43.7" stroke="#ff8c00" stroke-width="2.0" fill="none" stroke-linejoin="round"/>
<path d="M29.90,104.00 h5.4 M29.90,110.00 h5.4 M31.50,105.50 h2.2 M31.50,108.50 h2.2 M31.50,107.00 h2.2 M41.50,52.80 h5.4 M41.50,56.60 h5.4 M43.10,53.75 h2.2 M43.10,55.65 h2.2 M43.10,54.70 h2.2 M52.67,43.90 h5.4 M64.05,43.70 h5.4 M75.43,43.70 h5.4 M86.82,43.70 h5.4 M98.20,43.70 h5.4 M109.58,43.70 h5.4 M120.97,43.70 h5.4 M132.35,43.70 h5.4 M143.73,43.70 h5.4 M155.12,43.70 h5.4 M166.50,43.70 h5.4 M177.88,43.70 h5.4 M189.27,43.70 h5.4 M200.65,43.70 h5.4 M212.03,43.70 h5.4 M223.42,43.70 h5.4 M234.80,43.70 h5.4 M246.18,43.70 h5.4 M257.57,43.70 h5.4 M268.95,43.70 h5.4 M280.33,43.70 h5.4 M291.72,43.70 h5.4 M303.10,43.70 h5.4 M314.48,43.70 h5.4 M325.87,43.70 h5.4 M337.25,43.70 h5.4 M348.63,43.70 h5.4 M360.02,43.70 h5.4" stroke="#ff8020" stroke-width="3.0" fill="none"/>
<path d="M31.0,104.5 L31.5,102.5 L32.0,100.5 L32.5,98.4 L33.0,96.3 L33.5,94.2 L34.0,92.0 L34.5,89.8 L35.0,87.6 L35.5,85.3 L36.0,83.0 L36.5,80.5 L37.0,77.8 L37.5,74.9 L38.0,71.8 L38.5,68.7 L39.0,65.7 L39.5,62.8 L40.0,60.1 L40.5,57.3 L41.0,54.6 L41.5,52.1 L42.0,49.8 L42.5,47.9 L43.0,46.2 L43.5,44.6 L44.0,42.9 L44.5,40.9 L45.0,39.0 L45.5,37.5 L46.0,36.3 L46.5,35.2 L47.0,34.3 L47.5,33.5 L48.0,33.0 L48.5,32.5 L49.0,32.0 L49.5,31.7 L50.0,31.4 L50.5,31.2 L51.0,30.9 L51.5,30.7 L52.0,30.5 L52.5,30.4 L53.0,30.2 L53.5,30.1 L54.0,30.0 L54.5,29.9 L55.0,29.9 L55.5,29.8 L56.0,29.7 L56.5,29.7 L57.0,29.6 L57.5,29.6 L58.0,29.5 L58.5,29.5 L59.0,29.5 L59.5,29.4 L60.0,29.4 L60.5,29.4 L61.0,29.4 L61.5,29.3 L62.0,29.3 L62.5,29.3 L63.0,29.3 L63.5,29.3 L64.0,29.3 L64.5,29.3 L65.0,29.3 L65.5,29.3 L66.0,29.3 L66.5,29.3 L67.0,29.3 L67.5,29.3 L68.0,29.3 L68.5,29.3 L69.0,29.3 L69.5,29.3 L70.0,29.3 L70.5,29.3 L71.0,29.3 L71.5,29.3 L72.0,29.3 L72.5,29.3 L73.0,29.3 L73.5,29.3 L74.0,29.3 L74.5,29.3 L75.0,29.3 L75.5,29.3 L76.0,29.3 L76.5,29.3 L77.0,29.3 L77.5,29.3 L78.0,29.3 L78.5,29.3 L79.0,29.3 L79.5,29.3 L80.0,29.3 L80.5,29.3 L81.0,29.3 L81.5,29.3 L82.0,29.3 L82.5,29.3 L83.0,29.3 L83.5,29.3 L84.0,29.3 L84.5,29.3 L85.0,29.3 L85.5,29.3 L86.0,29.3 L86.5,29.3 L87.0,29.3 L87.5,29.3 L88.0,29.3 L88.5,29.3 L89.0,29.3 L89.5,29.3 L90.0,29.3 L90.5,29.3 L91.0,29.3 L91.5,29.3 L92.0,29.3 L92.5,29.3 L93.0,29.3 L93.5,29.3 L94.0,29.3 L94.5,29.3 L95.0,29.3 L95.5,29.3 L96.0,29.3 L96.5,29.3 L97.0,29.3 L97.5,29.3 L98.0,29.3 L98.5,29.3 L99.0,29.3 L99.5,29.3 L100.0,29.3 L100.5,29.3 L101.0,29.3 L101.5,29.3 L102.0,29.3 L102.5,29.3 L103.0,29.3 L103.5,29.3 L104.0,29.3 L104.5,29.3 L105.0,29.3 L105.5,29.3 L106.0,29.3 L106.5,29.3 L107.0,29.3 L107.5,29.3 L108.0,29.3 L108.5,29.3 L109.0,29.3 L109.5,29.3 L110.0,29.3 L110.5,29.3 L111.0,29.3 L111.5,29.3 L112.0,29.3 L112.5,29.3 L113.0,29.3 L113.5,29.3 L114.0,29.3 L114.5,29.3 L115.0,29.3 L115.5,29.3 L116.0,29.3 L116.5,29.3 L117.0,29.3 L117.5,29.3 L118.0,29.3 L118.5,29.3 L119.0,29.3 L119.5,29.3 L120.0,29.3 L120.5,29.4 L121.0,29.4 L121.5,29.4 L122.0,29.4 L122.5,29.4 L123.0,29.4 L123.5,29.4 L124.0,29.4 L124.5,29.4 L125.0,29.4 L125.5,29.4 L126.0,29.4 L126.5,29.4 L127.0,29.4 L127.5,29.4 L128.0,29.4 L128.5,29.4 L129.0,29.4 L129.5,29.4 L130.0,29.4 L130.5,29.4 L131.0,29.4 L131.5,29.4 L132.0,29.4 L132.5,29.4 L133.0,29.4 L133.5,29.4 L134.0,29.4 L134.5,29.4 L135.0,29.4 L135.5,29.4 L136.0,29.5 L136.5,29.5 L137.0,29.5 L137.5,29.5 L138.0,29.5 L138.5,29.5 L139.0,29.5 L139.5,29.5 L140.0,29.5 L140.5,29.5 L141.0,29.5 L141.5,29.5 L142.0,29.5 L142.5,29.5 L143.0,29.6 L143.5,29.6 L144.0,29.6 L144.5,29.6 L145.0,29.6 L145.5,29.6 L146.0,29.6 L146.5,29.6 L147.0,29.6 L147.5,29.6 L148.0,29.7 L148.5,29.7 L149.0,29.7 L149.5,29.7 L150.0,29.7 L150.5,29.7 L151.0,29.7 L151.5,29.7 L152.0,29.8 L152.5,29.8 L153.0,29.8 L153.5,29.8 L154.0,29.8 L154.5,29.8 L155.0,29.9 L155.5,29.9 L156.0,29.9 L156.5,29.9 L157.0,29.9 L157.5,30.0 L158.0,30.0 L158.5,30.0 L159.0,30.0 L159.5,30.1 L160.0,30.1 L160.5,30.1 L161.0,30.1 L161.5,30.2 L162.0,30.2 L162.5,30.2 L163.0,30.2 L163.5,30.3 L164.0,30.3 L164.5,30.3 L165.0,30.4 L165.5,30.4 L166.0,30.4 L166.5,30.5 L167.0,30.5 L167.5,30.5 L168.0,30.6 L168.5,30.6 L169.0,30.6 L169.5,30.7 L170.0,30.7 L170.5,30.7 L171.0,30.8 L171.5,30.8 L172.0,30.9 L172.5,30.9 L173.0,30.9 L173.5,31.0 L174.0,31.0 L174.5,31.1 L175.0,31.1 L175.5,31.1 L176.0,31.2 L176.5,31.2 L177.0,31.3 L177.5,31.3 L178.0,31.4 L178.5,31.4 L179.0,31.4 L179.5,31.5 L180.0,31.5 L180.5,31.6 L181.0,31.6 L181.5,31.7 L182.0,31.7 L182.5,31.8 L183.0,31.8 L183.5,31.9 L184.0,31.9 L184.5,32.0 L185.0,32.0 L185.5,32.1 L186.0,32.1 L186.5,32.2 L187.0,32.2 L187.5,32.3 L188.0,32.4 L188.5,32.4 L189.0,32.5 L189.5,32.6 L190.0,32.6 L190.5,32.7 L191.0,32.8 L191.5,32.9 L192.0,32.9 L192.5,33.0 L193.0,33.1 L193.5,33.2 L194.0,33.2 L194.5,33.3 L195.0,33.4 L195.5,33.5 L196.0,33.6 L196.5,33.6 L197.0,33.7 L197.5,33.8 L198.0,33.9 L198.5,34.0 L199.0,34.1 L199.5,34.2 L200.0,34.3 L200.5,34.4 L201.0,34.5 L201.5,34.6 L202.0,34.7 L202.5,34.7 L203.0,34.8 L203.5,34.9 L204.0,35.0 L204.5,35.1 L205.0,35.2 L205.5,35.3 L206.0,35.4 L206.5,35.5 L207.0,35.6 L207.5,35.7 L208.0,35.8 L208.5,35.9 L209.0,36.0 L209.5,36.1 L210.0,36.2 L210.5,36.3 L211.0,36.4 L211.5,36.5 L212.0,36.6 L212.5,36.7 L213.0,36.8 L213.5,36.9 L214.0,37.0 L214.5,37.1 L215.0,37.2 L215.5,37.3 L216.0,37.4 L216.5,37.4 L217.0,37.5 L217.5,37.6 L218.0,37.7 L218.5,37.8 L219.0,37.9 L219.5,38.0 L220.0,38.1 L220.5,38.2 L221.0,38.3 L221.5,38.4 L222.0,38.4 L222.5,38.5 L223.0,38.6 L223.5,38.7 L224.0,38.8 L224.5,38.9 L225.0,39.0 L225.5,39.0 L226.0,39.1 L226.5,39.2 L227.0,39.3 L227.5,39.4 L228.0,39.4 L228.5,39.5 L229.0,39.6 L229.5,39.6 L230.0,39.7 L230.5,39.8 L231.0,39.9 L231.5,39.9 L232.0,40.0 L232.5,40.1 L233.0,40.1 L233.5,40.2 L234.0,40.3 L234.5,40.4 L235.0,40.4 L235.5,40.5 L236.0,40.6 L236.5,40.6 L237.0,40.7 L237.5,40.7 L238.0,40.8 L238.5,40.8 L239.0,40.9 L239.5,40.9 L240.0,41.0 L240.5,41.0 L241.0,41.1 L241.5,41.1 L242.0,41.2 L242.5,41.2 L243.0,41.2 L243.5,41.3 L244.0,41.3 L244.5,41.3 L245.0,41.4 L245.5,41.4 L246.0,41.4 L246.5,41.5 L247.0,41.5 L247.5,41.5 L248.0,41.6 L248.5,41.6 L249.0,41.6 L249.5,41.6 L250.0,41.7 L250.5,41.7 L251.0,41.7 L251.5,41.7 L252.0,41.8 L252.5,41.8 L253.0,41.8 L253.5,41.8 L254.0,41.8 L254.5,41.8 L255.0,41.8 L255.5,41.8 L256.0,41.8 L256.5,41.8 L257.0,41.8 L257.5,41.8 L258.0,41.9 L258.5,41.9 L259.0,41.9 L259.5,41.9 L260.0,41.9 L260.5,41.9 L261.0,41.9 L261.5,41.9 L262.0,41.9 L262.5,41.9 L263.0,41.9 L263.5,41.9 L264.0,41.9 L264.5,41.9 L265.0,41.9 L265.5,41.9 L266.0,41.9 L266.5,41.9 L267.0,41.9 L267.5,42.0 L268.0,42.0 L268.5,42.0 L269.0,42.0 L269.5,42.0 L270.0,42.0 L270.5,42.0 L271.0,42.0 L271.5,42.0 L272.0,42.0 L272.5,42.0 L273.0,42.0 L273.5,42.0 L274.0,42.0 L274.5,42.0 L275.0,42.0 L275.5,42.0 L276.0,42.0 L276.5,42.0 L277.0,42.0 L277.5,42.0 L278.0,42.0 L278.5,42.0 L279.0,42.0 L279.5,42.0 L280.0,42.0 L280.5,42.0 L281.0,42.0 L281.5,42.0 L282.0,42.0 L282.5,42.0 L283.0,42.0 L283.5,42.0 L284.0,42.0 L284.5,42.0 L285.0,42.0 L285.5,42.0 L286.0,42.0 L286.5,42.0 L287.0,42.0 L287.5,42.0 L288.0,42.0 L288.5,42.0 L289.0,42.0 L289.5,42.0 L290.0,42.0 L290.5,42.0 L291.0,42.0 L291.5,42.0 L292.0,42.0 L292.5,42.0 L293.0,42.0 L293.5,42.0 L294.0,42.0 L294.5,42.0 L295.0,42.0 L295.5,42.0 L296.0,42.0 L296.5,42.0 L297.0,42.0 L297.5,42.0 L298.0,42.0 L298.5,42.0 L299.0,42.0 L299.5,42.0 L300.0,42.0 L300.5,42.0 L301.0,42.0 L301.5,42.0 L302.0,42.0 L302.5,42.0 L303.0,42.0 L303.5,42.0 L304.0,42.0 L304.5,42.0 L305.0,42.0 L305.5,42.0 L306.0,42.0 L306.5,42.0 L307.0,42.0 L307.5,42.0 L308.0,42.0 L308.5,42.0 L309.0,42.0 L309.5,42.0 L310.0,42.0 L310.5,42.0 L311.0,42.0 L311.5,42.0 L312.0,42.0 L312.5,42.0 L313.0,42.0 L313.5,42.0 L314.0,42.0 L314.5,42.0 L315.0,42.0 L315.5,42.0 L316.0,42.0 L316.5,42.0 L317.0,42.0 L317.5,42.0 L318.0,42.0 L318.5,42.0 L319.0,42.0 L319.5,42.0 L320.0,42.0 L320.5,42.0 L321.0,42.0 L321.5,42.0 L322.0,42.0 L322.5,42.0 L323.0,42.0 L323.5,42.0 L324.0,42.0 L324.5,42.0 L325.0,42.0 L325.5,42.0 L326.0,42.0 L326.5,42.0 L327.0,42.0 L327.5,42.0 L328.0,42.0 L328.5,42.0 L329.0,42.0 L329.5,42.0 L330.0,42.0 L330.5,42.0 L331.0,42.0 L331.5,42.0 L332.0,42.0 L332.5,42.0 L333.0,42.0 L333.5,42.0 L334.0,42.0 L334.5,42.0 L335.0,42.0 L335.5,42.0 L336.0,42.0 L336.5,42.0 L337.0,42.0 L337.5,42.0 L338.0,42.0 L338.5,41.9 L339.0,41.9 L339.5,41.9 L340.0,41.9 L340.5,41.9 L341.0,41.9 L341.5,41.9 L342.0,41.9 L342.5,41.9 L343.0,41.9 L343.5,41.9 L344.0,41.9 L344.5,41.9 L345.0,41.9 L345.5,41.9 L346.0,41.9 L346.5,41.9 L347.0,41.9 L347.5,41.9 L348.0,41.9 L348.5,41.9 L349.0,41.9 L349.5,41.9 L350.0,41.9 L350.5,41.9 L351.0,41.9 L351.5,41.9 L352.0,41.9 L352.5,41.9 L353.0,41.9 L353.5,41.9 L354.0,41.9 L354.5,41.9 L355.0,41.9 L355.5,41.9 L356.0,41.9 L356.5,41.9 L357.0,41.9 L357.5,41.9 L358.0,41.9 L358.5,41.9 L359.0,41.9 L359.5,41.9 L360.0,41.9 L360.5,41.9 L361.0,41.9 L361.5,41.9 L362.0,41.9 L362.5,41.9 L363.0,41.9 L363.5,41.9 L364.0,41.9 L364.5,41.8 L365.0,41.8 L365.5,41.8 L366.0,41.8 L366.5,41.8 L367.0,41.8 L367.5,41.8 L368.0,41.8 L368.5,41.8 L369.0,41.8 L369.5,41.8 L370.0,41.8 L370.5,41.8 L371.0,41.8 L371.5,41.8 L372.0,41.8 L372.5,41.8" stroke="#20ee20" stroke-width="2.0" fill="none" stroke-linejoin="round"/>
<path d="M36.70,63.40 h5.4 M48.08,31.02 h5.4 M59.47,29.31 h5.4 M70.85,29.30 h5.4 M82.23,29.30 h5.4 M93.62,29.30 h5.4 M105.00,29.31 h5.4 M116.38,29.34 h5.4 M127.77,29.40 h5.4 M139.15,29.54 h5.4 M150.53,29.79 h5.4 M161.92,30.33 h5.4 M173.30,31.18 h5.4 M184.68,32.29 h5.4 M196.07,34.05 h5.4 M207.45,36.23 h5.4 M218.83,38.36 h5.4 M230.22,40.14 h5.4 M241.60,41.32 h5.4 M252.98,41.82 h5.4 M264.37,41.95 h5.4 M275.75,42.00 h5.4 M287.13,42.00 h5.4 M298.52,42.00 h5.4 M309.90,41.99 h5.4 M321.28,41.98 h5.4 M332.67,41.96 h5.4 M344.05,41.92 h5.4 M355.43,41.88 h5.4 M366.82,41.82 h5.4" stroke="#00ff00" stroke-width="2.9" fill="none"/>
</g>
<path d="M30.5,10.5 H372.5 V222.0 M372.5,221.5 H30.5" fill="none" stroke="#6e6e6e" stroke-width="1"/>
<path d="M31.0,10.5 V221.5" fill="none" stroke="#888" stroke-width="1"/>
<path d="M42.38,221.5 v-1.6 M42.38,10.5 v1.6 M53.77,221.5 v-1.6 M53.77,10.5 v1.6 M65.15,221.5 v-1.6 M65.15,10.5 v1.6 M76.53,221.5 v-2.2 M76.53,10.5 v2.2 M87.92,221.5 v-1.6 M87.92,10.5 v1.6 M99.30,221.5 v-1.6 M99.30,10.5 v1.6 M110.68,221.5 v-1.6 M110.68,10.5 v1.6 M122.07,221.5 v-2.2 M122.07,10.5 v2.2 M133.45,221.5 v-1.6 M133.45,10.5 v1.6 M144.83,221.5 v-1.6 M144.83,10.5 v1.6 M156.22,221.5 v-1.6 M156.22,10.5 v1.6 M167.60,221.5 v-2.2 M167.60,10.5 v2.2 M178.98,221.5 v-1.6 M178.98,10.5 v1.6 M190.37,221.5 v-1.6 M190.37,10.5 v1.6 M201.75,221.5 v-1.6 M201.75,10.5 v1.6 M213.13,221.5 v-2.2 M213.13,10.5 v2.2 M224.52,221.5 v-1.6 M224.52,10.5 v1.6 M235.90,221.5 v-1.6 M235.90,10.5 v1.6 M247.28,221.5 v-1.6 M247.28,10.5 v1.6 M258.67,221.5 v-2.2 M258.67,10.5 v2.2 M270.05,221.5 v-1.6 M270.05,10.5 v1.6 M281.43,221.5 v-1.6 M281.43,10.5 v1.6 M292.82,221.5 v-1.6 M292.82,10.5 v1.6 M304.20,221.5 v-2.2 M304.20,10.5 v2.2 M315.58,221.5 v-1.6 M315.58,10.5 v1.6 M326.97,221.5 v-1.6 M326.97,10.5 v1.6 M338.35,221.5 v-1.6 M338.35,10.5 v1.6 M349.73,221.5 v-2.2 M349.73,10.5 v2.2 M361.12,221.5 v-1.6 M361.12,10.5 v1.6 M31.0,17.50 h1.6 M372.5,17.50 h-1.6 M31.0,24.50 h1.6 M372.5,24.50 h-1.6 M31.0,31.50 h1.6 M372.5,31.50 h-1.6 M31.0,38.50 h1.6 M372.5,38.50 h-1.6 M31.0,45.50 h2.2 M372.5,45.50 h-2.2 M31.0,52.50 h1.6 M372.5,52.50 h-1.6 M31.0,59.50 h1.6 M372.5,59.50 h-1.6 M31.0,66.50 h1.6 M372.5,66.50 h-1.6 M31.0,74.50 h1.6 M372.5,74.50 h-1.6 M31.0,81.50 h2.2 M372.5,81.50 h-2.2 M31.0,88.50 h1.6 M372.5,88.50 h-1.6 M31.0,95.50 h1.6 M372.5,95.50 h-1.6 M31.0,102.50 h1.6 M372.5,102.50 h-1.6 M31.0,109.50 h1.6 M372.5,109.50 h-1.6 M31.0,116.50 h2.2 M372.5,116.50 h-2.2 M31.0,123.50 h1.6 M372.5,123.50 h-1.6 M31.0,130.50 h1.6 M372.5,130.50 h-1.6 M31.0,137.50 h1.6 M372.5,137.50 h-1.6 M31.0,144.50 h1.6 M372.5,144.50 h-1.6 M31.0,151.50 h2.2 M372.5,151.50 h-2.2 M31.0,158.50 h1.6 M372.5,158.50 h-1.6 M31.0,165.50 h1.6 M372.5,165.50 h-1.6 M31.0,172.50 h1.6 M372.5,172.50 h-1.6 M31.0,179.50 h1.6 M372.5,179.50 h-1.6 M31.0,186.50 h2.2 M372.5,186.50 h-2.2 M31.0,193.50 h1.6 M372.5,193.50 h-1.6 M31.0,200.50 h1.6 M372.5,200.50 h-1.6 M31.0,207.50 h1.6 M372.5,207.50 h-1.6 M31.0,214.50 h1.6 M372.5,214.50 h-1.6" stroke="#6e6e6e" stroke-width="1" fill="none"/>
<g class="t" fill="#000">
<text transform="translate(31.20,231.00) scale(1,1.1)" text-anchor="middle">0</text>
<text transform="translate(76.73,231.00) scale(1,1.1)" text-anchor="middle">2</text>
<text transform="translate(122.27,231.00) scale(1,1.1)" text-anchor="middle">4</text>
<text transform="translate(167.80,231.00) scale(1,1.1)" text-anchor="middle">6</text>
<text transform="translate(213.33,231.00) scale(1,1.1)" text-anchor="middle">8</text>
<text transform="translate(258.87,231.00) scale(1,1.1)" text-anchor="middle">10</text>
<text transform="translate(304.40,231.00) scale(1,1.1)" text-anchor="middle">12</text>
<text transform="translate(349.93,231.00) scale(1,1.1)" text-anchor="middle">14</text>
<text transform="translate(29.10,224.10) scale(1,1.1)" text-anchor="end">2.0</text>
<text transform="translate(29.10,188.95) scale(1,1.1)" text-anchor="end">2.1</text>
<text transform="translate(29.10,153.80) scale(1,1.1)" text-anchor="end">2.2</text>
<text transform="translate(29.10,118.65) scale(1,1.1)" text-anchor="end">2.3</text>
<text transform="translate(29.10,83.50) scale(1,1.1)" text-anchor="end">2.4</text>
<text transform="translate(29.10,48.35) scale(1,1.1)" text-anchor="end">2.5</text>
<text transform="translate(29.10,13.20) scale(1,1.1)" text-anchor="end">2.6</text>
<text transform="translate(202.10,244.60) scale(1,1.08)" text-anchor="middle">time (ms)</text>
<g transform="translate(10.2,0) rotate(-90)">
<text x="-191.2" y="0" transform="scale(1,1.15)" style="font-size:10.76px">Functional Units per Sequestered Ion</text>
<text x="-193.6" y="0.9" text-anchor="end" class="s">#</text>
<text x="-200.9" y="1.3" text-anchor="end" class="s">&lt;</text>
<text x="-31.4" y="1.0" text-anchor="start" class="s">&gt;</text>
</g>
<text transform="translate(113.50,75.80) scale(1,1)" text-anchor="middle">I</text>
<text transform="translate(103.30,140.60) scale(1,1)" text-anchor="middle">II</text>
<text transform="translate(46.40,95.00) scale(1,1)" text-anchor="middle">III</text>
<text transform="translate(192.70,26.90) scale(1,1)" text-anchor="middle">IV</text>
</g>
</svg>
</body></html>
